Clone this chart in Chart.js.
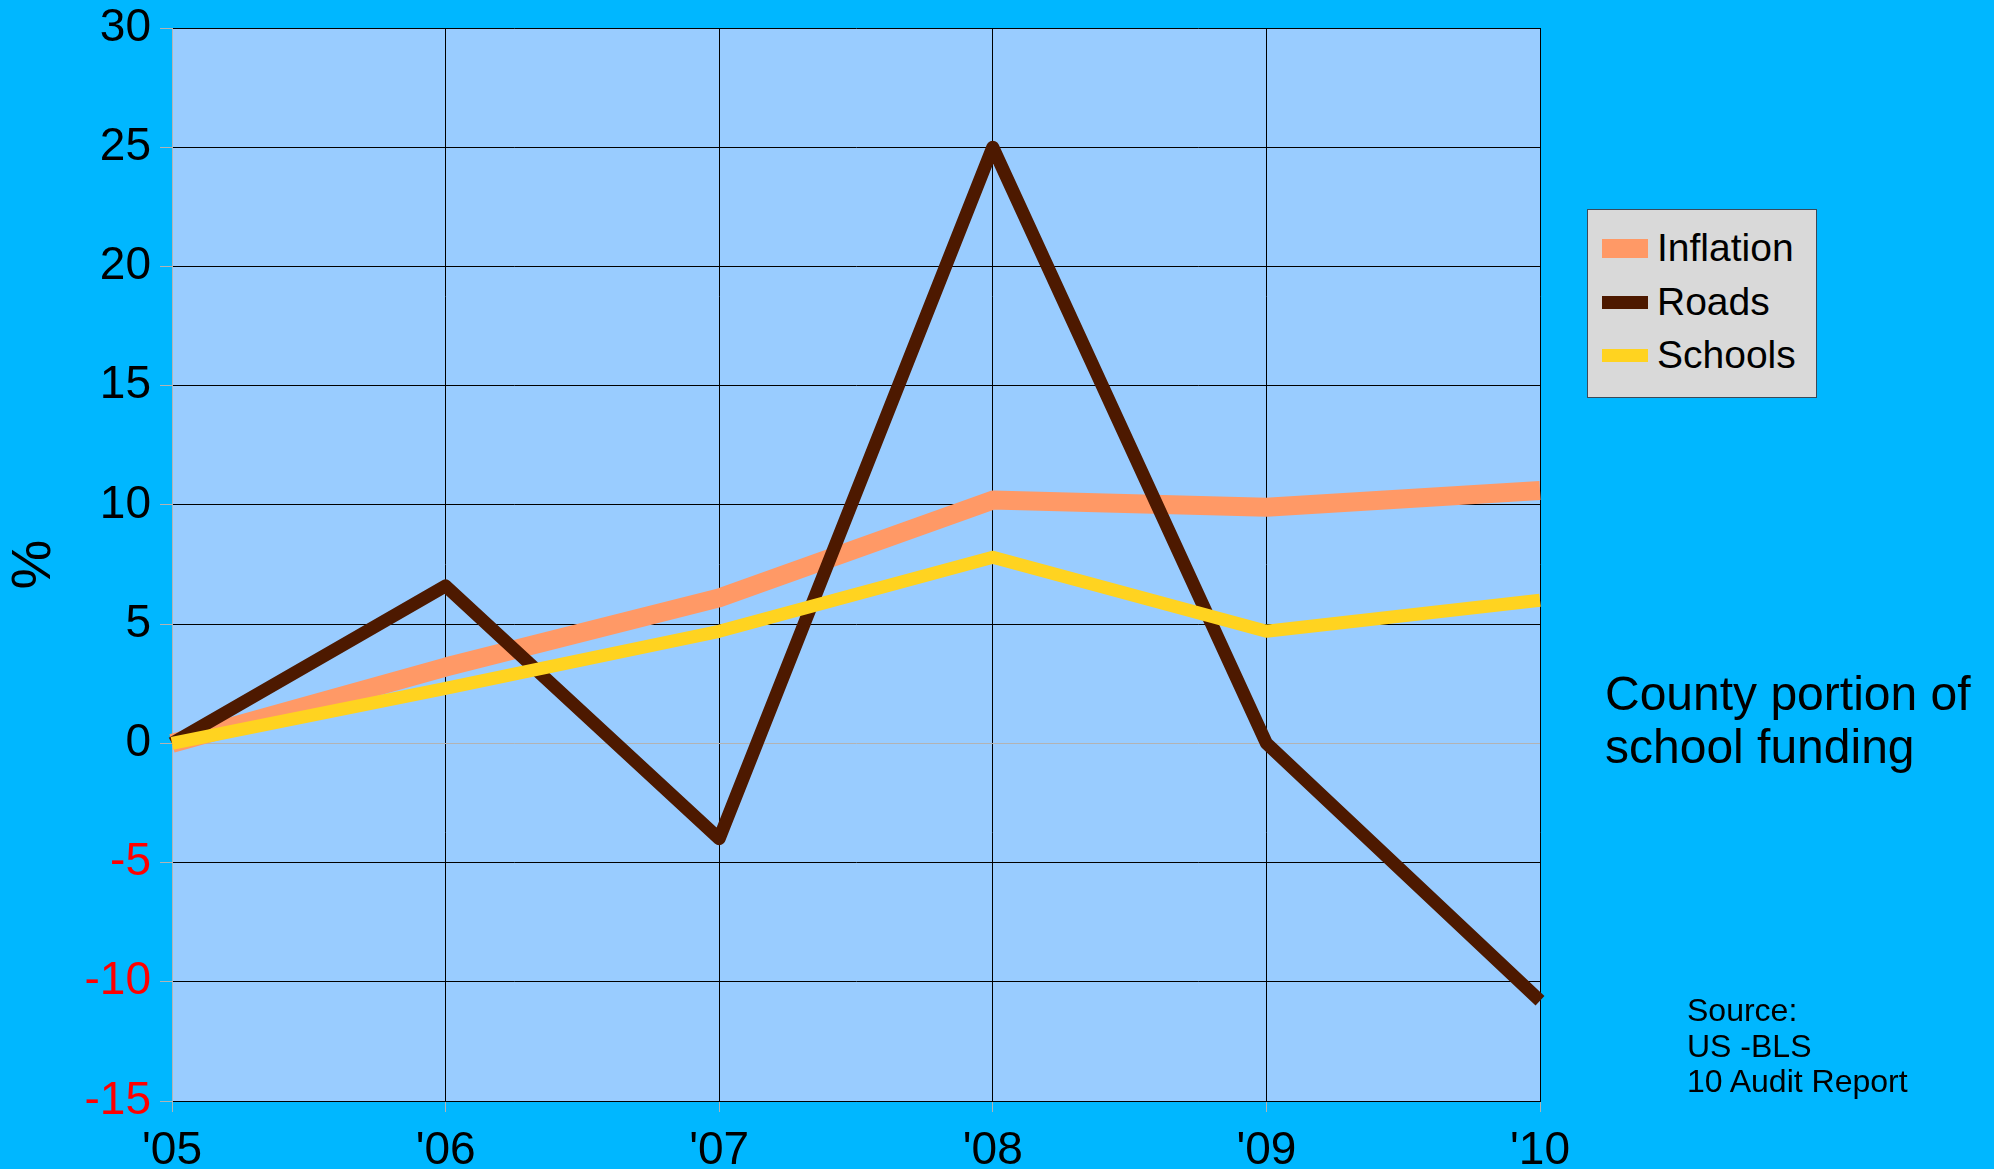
<!DOCTYPE html>
<html lang="en">
<head>
    <meta charset="UTF-8">
    <title>County portion of school funding</title>
    <script src="https://cdn.jsdelivr.net/npm/chart.js"></script>
    <style>
        body {
            margin: 0;
            padding: 0;
            background-color: #00b7ff;
            font-family: "Liberation Sans", Arial, sans-serif;
        }

        .chart-container {
            width: 1994px;
            height: 1169px;
            position: relative;
        }

        .legend {
            position: absolute;
            left: 1587px;
            top: 209px;
            width: 228px;
            height: 187px;
            background: #d9d9d9;
            border: 1px solid #3a4a5a;
        }

        .legend-item {
            position: absolute;
            left: 14px;
            font-size: 39px;
            line-height: 44px;
            color: #000;
        }

        .legend-item span.swatch {
            position: absolute;
            left: 0;
            width: 46px;
        }

        .legend-item span.label {
            position: absolute;
            left: 55px;
            white-space: nowrap;
        }

        .note {
            position: absolute;
            left: 1605px;
            top: 667px;
            font-size: 48px;
            line-height: 53px;
            color: #000;
        }

        .source {
            position: absolute;
            left: 1687px;
            top: 993px;
            font-size: 32px;
            line-height: 35.5px;
            color: #000;
        }
    </style>
</head>
<body>
    <div class="chart-container">
        <canvas id="fundingChart"></canvas>
        <div class="legend" id="legend"></div>
        <div class="note">County portion of<br>school funding</div>
        <div class="source">Source:<br>US -BLS<br>10 Audit Report</div>
    </div>

    <script>
        const years = ["'05", "'06", "'07", "'08", "'09", "'10"];
        const inflation = [0, 3.2, 6.1, 10.2, 9.9, 10.6];
        const roads = [0, 6.6, -4.0, 25.0, 0, -10.8];
        const schools = [0, 2.3, 4.7, 7.8, 4.7, 6.0];

        const seriesNames = ['Inflation', 'Roads', 'Schools'];
        const seriesData = [inflation, roads, schools];
        const colors = ['#ff9966', '#4d1900', '#ffd320'];
        const widths = [19, 13, 13];
        const drawOrder = [3, 2, 1]; // schools on top, inflation underneath

        const datasets = seriesNames.map((name, i) => ({
            label: name,
            data: seriesData[i],
            borderColor: colors[i],
            backgroundColor: colors[i],
            borderWidth: widths[i],
            borderJoinStyle: 'round',
            pointRadius: 0,
            tension: 0,
            fill: false,
            order: drawOrder[i],
            clip: false
        }));

        // light blue plot background
        const plotBackground = {
            id: 'plotBackground',
            beforeDraw(chart) {
                const { ctx, chartArea } = chart;
                ctx.save();
                ctx.fillStyle = '#99ccff';
                ctx.fillRect(chartArea.left, chartArea.top, chartArea.right - chartArea.left, chartArea.bottom - chartArea.top);
                ctx.restore();
            }
        };

        const ctx = document.getElementById('fundingChart').getContext('2d');
        const fundingChart = new Chart(ctx, {
            type: 'line',
            data: {
                labels: years,
                datasets: datasets
            },
            options: {
                responsive: true,
                maintainAspectRatio: false,
                animation: false,
                layout: {
                    padding: { left: 0, right: 454, top: 28, bottom: 0 }
                },
                scales: {
                    x: {
                        offset: false,
                        grid: {
                            color: (c) => c.index === 0 ? '#b3b3b3' : '#000000',
                            lineWidth: 1,
                            tickColor: '#b3b3b3',
                            tickLength: 11
                        },
                        border: { color: '#000000', width: 1 },
                        ticks: {
                            color: '#000000',
                            font: { family: 'Liberation Sans', size: 46 },
                            padding: 12,
                            autoSkip: false,
                            maxRotation: 0
                        },
                        afterFit(scale) { scale.height = 68; }
                    },
                    y: {
                        min: -15,
                        max: 30,
                        grid: {
                            color: (c) => c.tick && c.tick.value === 0 ? '#b3b3b3' : '#000000',
                            lineWidth: 1,
                            tickColor: '#b3b3b3',
                            tickLength: 12
                        },
                        border: { color: '#b3b3b3', width: 1 },
                        ticks: {
                            stepSize: 5,
                            color: (c) => c.tick.value < 0 ? '#ff0000' : '#000000',
                            font: { family: 'Liberation Sans', size: 46, lineHeight: 0.8 },
                            padding: 9
                        },
                        title: {
                            display: true,
                            text: '%',
                            color: '#000000',
                            font: { family: 'Liberation Sans', size: 56 },
                            padding: { top: 1, bottom: 0 }
                        },
                        afterFit(scale) { scale.width = 172; }
                    }
                },
                plugins: {
                    legend: { display: false },
                    tooltip: { enabled: false }
                }
            },
            plugins: [plotBackground]
        });

        // legend box built from the series
        const legend = document.getElementById('legend');
        const rowCenters = [38, 92, 145];
        seriesNames.forEach((name, i) => {
            const item = document.createElement('div');
            item.className = 'legend-item';
            item.style.top = (rowCenters[i] - 22) + 'px';
            const sw = document.createElement('span');
            sw.className = 'swatch';
            sw.style.background = colors[i];
            sw.style.height = widths[i] + 'px';
            sw.style.top = (22 - widths[i] / 2) + 'px';
            const lb = document.createElement('span');
            lb.className = 'label';
            lb.textContent = name;
            item.appendChild(sw);
            item.appendChild(lb);
            legend.appendChild(item);
        });
    </script>
</body>
</html>
